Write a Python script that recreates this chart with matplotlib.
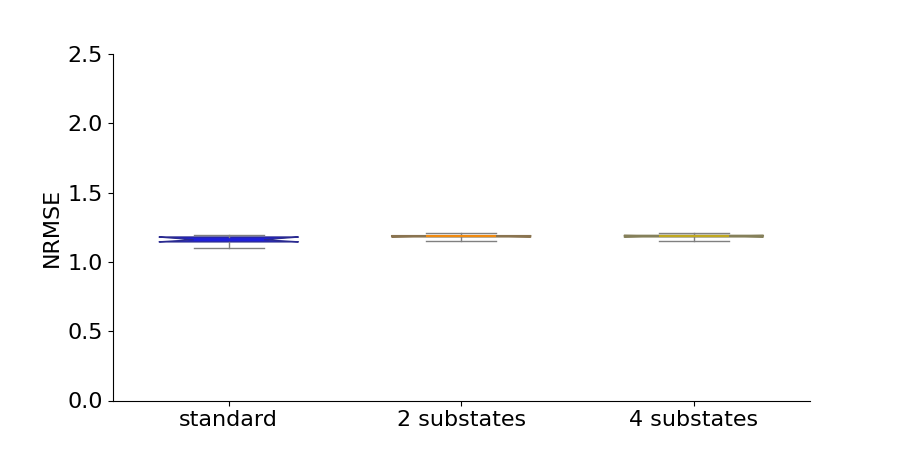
import matplotlib
matplotlib.use("Agg")
import matplotlib.pyplot as plt

# box statistics
categories = ["standard", "2 substates", "4 substates"]
q1 = [1.144, 1.180, 1.180]
med = [1.160, 1.186, 1.187]
q3 = [1.180, 1.190, 1.192]
whislo = [1.103, 1.154, 1.149]
whishi = [1.197, 1.209, 1.210]
# notch limits, about as wide as the box itself
cilo = [1.145, 1.181, 1.181]
cihi = [1.179, 1.189, 1.191]
colors = ["#2020d8", "#f08a10", "#c0a820"]
edge_colors = ["#2a2a90", "#8a7450", "#85805a"]

stats = []
for i, name in enumerate(categories):
    stats.append(dict(label=name, q1=q1[i], med=med[i], q3=q3[i],
                      whislo=whislo[i], whishi=whishi[i],
                      cilo=cilo[i], cihi=cihi[i], fliers=[]))

fig, ax = plt.subplots(figsize=(9, 4.5), dpi=100)

bp = ax.bxp(stats, positions=range(len(categories)), widths=0.6,
            shownotches=True, patch_artist=True, showfliers=False,
            boxprops=dict(linewidth=0.9),
            whiskerprops=dict(color="#808080", linewidth=1),
            capprops=dict(color="#808080", linewidth=1),
            medianprops=dict(linewidth=1.5))
for patch, med_line, c, ec in zip(bp["boxes"], bp["medians"], colors, edge_colors):
    patch.set_facecolor(c)
    patch.set_edgecolor(ec)
    med_line.set_color(c)

ax.set_xlim(-0.5, 2.5)
ax.set_ylim(0, 2.5)
ax.set_ylabel("NRMSE", fontsize=16)
ax.tick_params(axis="both", labelsize=16)
ax.spines["top"].set_visible(False)
ax.spines["right"].set_visible(False)

fig.savefig("out.png", dpi=100)
